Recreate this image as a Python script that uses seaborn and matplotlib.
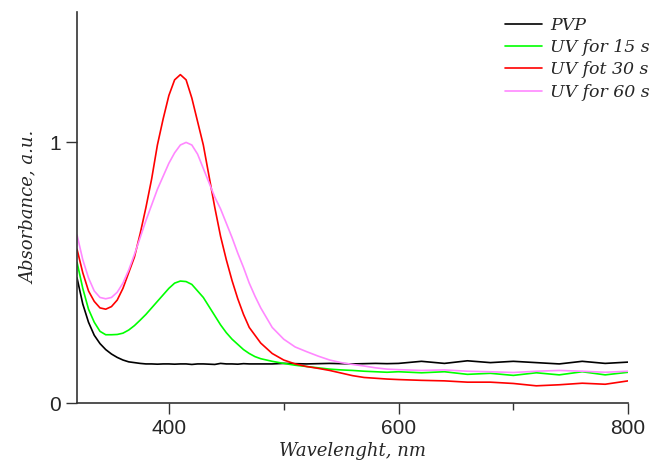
import matplotlib
matplotlib.use("Agg")
import matplotlib.pyplot as plt
import numpy as np
import pandas as pd
import seaborn as sns

# wavelength grid (nm)
wavelength = [
    320, 325, 330, 335, 340, 345, 350, 355, 360, 365, 370, 375, 380, 385, 390, 395,
    400, 405, 410, 415, 420, 425, 430, 435, 440, 445, 450, 455, 460, 465, 470, 475,
    480, 490, 500, 510, 520, 530, 540, 550, 560, 570, 580, 590, 600,
    620, 640, 660, 680, 700, 720, 740, 760, 780, 800,
]

pvp = [
    0.48, 0.38, 0.31, 0.26, 0.228, 0.205, 0.188, 0.175, 0.165, 0.158, 0.155, 0.152, 0.150, 0.150, 0.149, 0.150,
    0.150, 0.149, 0.150, 0.150, 0.148, 0.150, 0.150, 0.149, 0.148, 0.152, 0.150, 0.150, 0.149, 0.151, 0.150, 0.150,
    0.150, 0.150, 0.152, 0.151, 0.150, 0.151, 0.152, 0.151, 0.150, 0.151, 0.152, 0.151, 0.152,
    0.160, 0.152, 0.162, 0.155, 0.160, 0.155, 0.150, 0.160, 0.152, 0.157,
]

uv15 = [
    0.54, 0.44, 0.36, 0.31, 0.275, 0.262, 0.262, 0.263, 0.268, 0.280, 0.297, 0.318, 0.340, 0.365, 0.390, 0.415,
    0.440, 0.460, 0.468, 0.466, 0.455, 0.430, 0.405, 0.370, 0.335, 0.300, 0.270, 0.245, 0.225, 0.205, 0.190, 0.178,
    0.170, 0.160, 0.152, 0.145, 0.140, 0.135, 0.130, 0.127, 0.125, 0.122, 0.120, 0.118, 0.120,
    0.116, 0.120, 0.110, 0.114, 0.106, 0.116, 0.108, 0.120, 0.108, 0.118,
]

uv30 = [
    0.59, 0.50, 0.43, 0.39, 0.365, 0.36, 0.37, 0.395, 0.44, 0.50, 0.56, 0.65, 0.75, 0.86, 0.99, 1.09,
    1.18, 1.24, 1.26, 1.24, 1.17, 1.08, 0.99, 0.87, 0.75, 0.64, 0.55, 0.47, 0.40, 0.34, 0.29, 0.26,
    0.23, 0.19, 0.165, 0.150, 0.140, 0.133, 0.125, 0.115, 0.105, 0.098, 0.095, 0.092, 0.090,
    0.087, 0.085, 0.080, 0.080, 0.075, 0.066, 0.070, 0.076, 0.072, 0.085,
]

uv60 = [
    0.645, 0.55, 0.48, 0.43, 0.405, 0.40, 0.405, 0.425, 0.46, 0.51, 0.57, 0.635, 0.70, 0.76, 0.82, 0.87,
    0.92, 0.96, 0.99, 1.00, 0.99, 0.955, 0.90, 0.845, 0.79, 0.745, 0.69, 0.635, 0.575, 0.52, 0.46, 0.41,
    0.365, 0.29, 0.245, 0.215, 0.197, 0.180, 0.165, 0.155, 0.148, 0.142, 0.135, 0.130, 0.128,
    0.125, 0.127, 0.122, 0.120, 0.117, 0.122, 0.125, 0.122, 0.118, 0.122,
]

labels = ["PVP", "UV for 15 s", "UV fot 30 s", "UV for 60 s"]
colors = ["#000000", "#00ff00", "#ff0000", "#ff88ff"]

sns.set_style("ticks")
plt.rcParams["font.family"] = ["Liberation Sans", "DejaVu Sans"]

frames = []
for name, vals in zip(labels, [pvp, uv15, uv30, uv60]):
    frames.append(pd.DataFrame({"wavelength": wavelength, "absorbance": vals, "sample": name}))
df = pd.concat(frames, ignore_index=True)

fig = plt.figure(figsize=(6.64, 4.65), dpi=100)
ax = fig.add_axes([0.116, 0.1333, 0.830, 0.8407])

sns.lineplot(
    data=df, x="wavelength", y="absorbance", hue="sample", hue_order=labels,
    palette=dict(zip(labels, colors)), linewidth=1.2, sort=False, ax=ax,
)

ax.set_xlim(320, 800)
ax.set_ylim(0, 1.5)
ax.set_xticks([400, 600, 800])
ax.set_xticks([500, 700], minor=True)
ax.set_yticks([0, 1])
ax.set_yticklabels(["0", "1"])
ax.tick_params(axis="both", which="major", length=8, width=1.0, labelsize=15, color="#333333")
ax.tick_params(axis="both", which="minor", length=5, width=1.0, color="#333333")
for side in ["top", "right"]:
    ax.spines[side].set_visible(False)
for side in ["left", "bottom"]:
    ax.spines[side].set_color("#333333")
    ax.spines[side].set_linewidth(1.2)

serif = {"family": "DejaVu Serif", "style": "italic", "size": 13}
ax.set_xlabel("Wavelenght, nm", fontdict=serif, labelpad=3)
ax.set_ylabel("Absorbance, a.u.", fontdict=serif, labelpad=8)

leg_font = {"family": "DejaVu Serif", "style": "italic", "size": 12.5}
handles, _ = ax.get_legend_handles_labels()
ax.legend(
    handles, labels, loc="upper left", bbox_to_anchor=(0.748, 0.982),
    bbox_transform=fig.transFigure, frameon=False, prop=leg_font,
    handlelength=2.1, handletextpad=0.5, labelspacing=0.3, borderpad=0,
)

fig.savefig("out.png", dpi=100)
